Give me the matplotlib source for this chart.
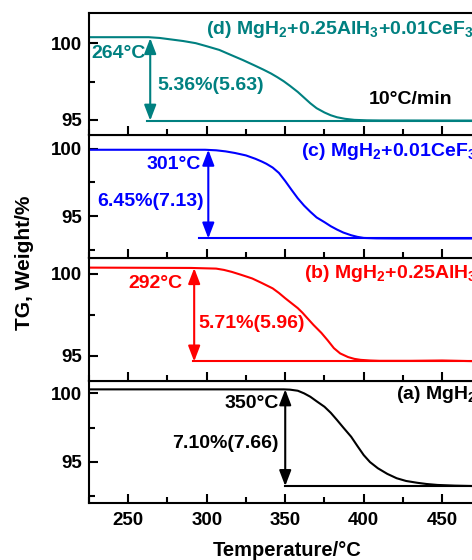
import matplotlib
matplotlib.use('Agg')
import matplotlib.pyplot as plt
from matplotlib.ticker import MultipleLocator

plt.rcParams['font.family'] = 'Liberation Sans'
plt.rcParams['font.weight'] = 'bold'
plt.rcParams['mathtext.fontset'] = 'custom'
plt.rcParams['mathtext.rm'] = 'Liberation Sans:bold'
plt.rcParams['mathtext.it'] = 'Liberation Sans:bold'
plt.rcParams['mathtext.bf'] = 'Liberation Sans:bold'
plt.rcParams['mathtext.default'] = 'rm'

# ---- data ----
T_a = [225, 349, 353, 358, 362, 366, 370, 375, 379, 383, 387, 392, 396, 400, 404,
       409, 415, 421, 427, 434, 440, 447, 458, 470, 490]
W_a = [100.29, 100.29, 100.27, 100.19, 100.0, 99.75, 99.42, 99.02, 98.58, 98.05,
       97.5, 96.83, 96.15, 95.49, 94.98, 94.53, 94.12, 93.80, 93.60, 93.47, 93.38,
       93.31, 93.26, 93.23, 93.23]

T_b = [225, 290, 306, 311, 316, 322, 329, 335, 342, 346, 350, 354, 358, 361, 364,
       368, 373, 377, 381, 385, 390, 394, 398, 404, 410, 430, 450, 470, 490]
W_b = [100.36, 100.34, 100.30, 100.22, 100.10, 99.92, 99.70, 99.43, 99.10, 98.82,
       98.50, 98.20, 97.90, 97.62, 97.30, 96.88, 96.40, 95.95, 95.47, 95.15, 94.93,
       94.82, 94.76, 94.72, 94.70, 94.70, 94.72, 94.68, 94.68]

T_c = [225, 299, 306, 312, 318, 325, 331, 335, 338, 342, 346, 350, 354, 358, 362,
       366, 370, 375, 379, 383, 387, 392, 396, 400, 408, 420, 490]
W_c = [99.92, 99.92, 99.88, 99.80, 99.68, 99.50, 99.25, 99.05, 98.88, 98.60, 98.20,
       97.60, 96.95, 96.32, 95.78, 95.32, 94.90, 94.55, 94.25, 94.00, 93.78, 93.58,
       93.46, 93.38, 93.35, 93.34, 93.34]

T_d = [225, 263, 270, 276, 285, 293, 300, 308, 315, 323, 330, 336, 341, 345, 349,
       353, 358, 362, 366, 370, 375, 379, 383, 388, 394, 402, 410, 490]
W_d = [100.39, 100.39, 100.34, 100.26, 100.14, 100.00, 99.80, 99.56, 99.25, 98.90,
       98.57, 98.28, 98.02, 97.78, 97.52, 97.22, 96.82, 96.45, 96.08, 95.76, 95.48,
       95.30, 95.17, 95.07, 95.00, 94.97, 94.96, 94.95]

onset_T     = [350, 292, 301, 264]                 # a, b, c, d
arrow_top   = [100.29, 100.33, 99.92, 100.33]
arrow_bot   = [93.23, 94.66, 93.34, 94.95]
base_start  = [350, 291, 295, 262]
loss_labels = ['7.10%(7.66)', '5.71%(5.96)', '6.45%(7.13)', '5.36%(5.63)']
names = ['(a) MgH$_2$', '(b) MgH$_2$+0.25AlH$_3$', '(c) MgH$_2$+0.01CeF$_3$',
         '(d) MgH$_2$+0.25AlH$_3$+0.01CeF$_3$']
colors = ['black', '#FF0000', '#0000FF', '#008080']
ylims = [(91.97, 100.93), (93.5, 100.95), (91.9, 101.0), (94.0, 102.0)]

# label placement (x, y, ha) per panel
onset_pos = [(346, 99.27, 'right'), (284.6, 99.39, 'right'), (296.2, 98.81, 'right'), (226.3, 99.34, 'left')]
loss_pos  = [(346, 96.35, 'right'), (294.5, 96.97, 'left'), (298.3, 96.07, 'right'), (268.3, 97.26, 'left')]
name_pos  = [(420.3, 99.88), (362, 100.0), (359.9, 99.8), (299.4, 100.87)]

curves = [(T_a, W_a), (T_b, W_b), (T_c, W_c), (T_d, W_d)]

fig = plt.figure(figsize=(4.72, 5.6), dpi=100)
gs = fig.add_gridspec(4, 1, left=89/472, right=505/472, top=1-12.5/560,
                      bottom=1-503.3/560, hspace=0)

for i in range(4):
    ax = fig.add_subplot(gs[3 - i])
    col = colors[i]
    T, W = curves[i]
    ax.plot(T, W, color=col, lw=1.5)
    ax.plot([base_start[i], 490], [arrow_bot[i], arrow_bot[i]], color=col, lw=1.5)
    ax.annotate('', xy=(onset_T[i], arrow_bot[i]), xytext=(onset_T[i], arrow_top[i]),
                arrowprops=dict(arrowstyle='<|-|>,head_length=0.47,head_width=0.18',
                                color=col, lw=1.5, mutation_scale=20,
                                shrinkA=0, shrinkB=0))
    x, y, ha = onset_pos[i]
    ax.text(x, y, f'{onset_T[i]}°C', color=col, fontsize=14, ha=ha, va='center')
    x, y, ha = loss_pos[i]
    ax.text(x, y, loss_labels[i], color=col, fontsize=14, ha=ha, va='center')
    x, y = name_pos[i]
    ax.text(x, y, names[i], color=col, fontsize=14, ha='left', va='center')
    if i == 3:
        ax.text(403.3, 96.32, '10°C/min', color='black', fontsize=14, ha='left', va='center')

    ax.set_xlim(225, 490)
    ax.set_ylim(*ylims[i])
    ax.xaxis.set_major_locator(MultipleLocator(50))
    ax.xaxis.set_minor_locator(MultipleLocator(25))
    ax.yaxis.set_major_locator(MultipleLocator(5))
    ax.yaxis.set_minor_locator(MultipleLocator(2.5))
    ax.tick_params(which='both', direction='in', width=1.5, labelsize=13.5)
    ax.tick_params(which='major', length=6.5)
    ax.tick_params(which='minor', length=4.3)
    ax.tick_params(axis='y', pad=5)
    ax.tick_params(axis='x', pad=6)
    for s in ax.spines.values():
        s.set_linewidth(1.5)
    if i != 0:
        ax.tick_params(axis='x', labelbottom=False)

fig.text(24.5/472, 1-263/560, 'TG, Weight/%', rotation=90, ha='center', va='center',
         fontsize=15)
fig.text(286.7/472, 1-550/560, 'Temperature/°C', ha='center', va='center', fontsize=14.5)

fig.savefig('out.png', dpi=100)
